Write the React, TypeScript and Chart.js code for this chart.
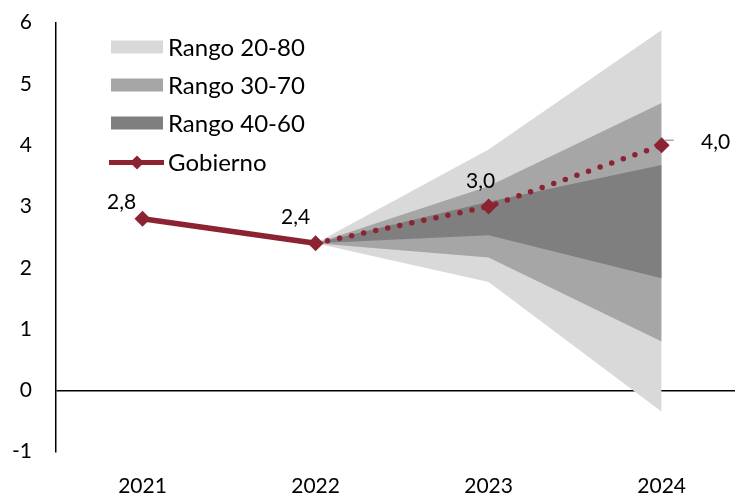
import { useEffect, useRef } from 'react';
import { Chart, registerables } from 'chart.js';

Chart.register(...registerables);

// Observed and projected growth (%)
const years = [2021, 2022, 2023, 2024];
const gobierno = [2.8, 2.4, 3.0, 4.0];

// Fan chart percentile bands, starting from the last observed year
const fanYears = [2022, 2023, 2024];
const rango2080Low = [2.4, 1.77, -0.35];
const rango2080High = [2.4, 3.93, 5.88];
const rango3070Low = [2.4, 2.17, 0.8];
const rango3070High = [2.4, 3.33, 4.69];
const rango4060Low = [2.4, 2.53, 1.83];
const rango4060High = [2.4, 3.08, 3.68];

const yMin = -1;
const yMax = 6;

const seriesNames = ['Rango 20-80', 'Rango 30-70', 'Rango 40-60', 'Gobierno'];

const RED = '#8B2332';
const LIGHT = '#D9D9D9';
const MID = '#A6A6A6';
const DARK = '#7F7F7F';
const FONT = 'Lato, "Open Sans", sans-serif';

const pts = (xs: number[], ys: number[]) => xs.map((x, i) => ({ x, y: ys[i] }));
const fmt = (v: number) => v.toFixed(1).replace('.', ',');

// label offsets relative to each Gobierno point
const labelOffsets: [number, number][] = [
  [-21, -17],
  [-20, -27],
  [-8, -26],
  [54, -4],
];

const band = (label: string, low: number[], high: number[], color: string, order: number, lowIndex: number) => [
  {
    label,
    data: pts(fanYears, high),
    fill: lowIndex,
    backgroundColor: color,
    borderColor: 'rgba(0,0,0,0)',
    borderWidth: 0,
    pointRadius: 0,
    order,
  },
  {
    label: label + ' (inferior)',
    data: pts(fanYears, low),
    fill: false,
    backgroundColor: color,
    borderColor: 'rgba(0,0,0,0)',
    borderWidth: 0,
    pointRadius: 0,
    order,
  },
];

const overlayPlugin = {
  id: 'overlay',
  afterDatasetsDraw(chart: any) {
    const ctx = chart.ctx as CanvasRenderingContext2D;
    const meta = chart.getDatasetMeta(0);
    ctx.save();
    // leader line for the last value label
    const last = meta.data[meta.data.length - 1];
    ctx.strokeStyle = MID;
    ctx.lineWidth = 1.5;
    ctx.beginPath();
    ctx.moveTo(last.x + 3, last.y - 5);
    ctx.lineTo(last.x + 12, last.y - 5);
    ctx.stroke();

    ctx.font = `21px ${FONT}`;
    ctx.fillStyle = '#000';
    ctx.textAlign = 'center';
    ctx.textBaseline = 'alphabetic';
    meta.data.forEach((pt: any, i: number) => {
      const [dx, dy] = labelOffsets[i];
      ctx.fillText(fmt(gobierno[i]), pt.x + dx, pt.y + dy + 7.5);
    });
    ctx.restore();
  },
  afterDraw(chart: any) {
    const ctx = chart.ctx as CanvasRenderingContext2D;
    const rows = [47, 85, 123, 162.5];
    const boxColors = [LIGHT, MID, DARK];
    ctx.save();
    boxColors.forEach((c, i) => {
      ctx.fillStyle = c;
      ctx.fillRect(111, rows[i] - 6.5, 52, 13);
    });
    // line + diamond swatch
    const gy = rows[3];
    ctx.strokeStyle = RED;
    ctx.lineWidth = 5;
    ctx.beginPath();
    ctx.moveTo(109, gy);
    ctx.lineTo(164, gy);
    ctx.stroke();
    ctx.fillStyle = RED;
    ctx.beginPath();
    ctx.moveTo(137 - 7, gy);
    ctx.lineTo(137, gy - 7);
    ctx.lineTo(137 + 7, gy);
    ctx.lineTo(137, gy + 7);
    ctx.closePath();
    ctx.fill();

    ctx.font = `24px ${FONT}`;
    ctx.fillStyle = '#000';
    ctx.textAlign = 'left';
    ctx.textBaseline = 'alphabetic';
    seriesNames.forEach((name, i) => {
      ctx.fillText(name, 168, rows[i] + 8.5);
    });
    ctx.restore();
  },
};

export default function App() {
  const ref = useRef<HTMLCanvasElement>(null);

  useEffect(() => {
    let chart: Chart | null = null;
    let cancelled = false;
    const build = () => {
      if (cancelled || !ref.current) return;
      chart = new Chart(ref.current, {
        type: 'line',
        data: {
          datasets: [
            {
              label: 'Gobierno',
              data: pts(years, gobierno),
              borderColor: RED,
              backgroundColor: RED,
              borderWidth: 5.5,
              borderCapStyle: 'round',
              tension: 0,
              fill: false,
              pointStyle: 'rectRot',
              pointRadius: 8,
              pointBackgroundColor: RED,
              pointBorderColor: RED,
              pointBorderWidth: 0,
              order: 0,
              segment: {
                borderDash: (c: any) => (c.p0DataIndex >= 1 ? [0, 12.3] : undefined),
              },
            } as any,
            ...band('Rango 40-60', rango4060Low, rango4060High, DARK, 1, 2),
            ...band('Rango 30-70', rango3070Low, rango3070High, MID, 2, 4),
            ...band('Rango 20-80', rango2080Low, rango2080High, LIGHT, 3, 6),
          ],
        },
        options: {
          responsive: false,
          devicePixelRatio: 1,
          animation: false,
          layout: { autoPadding: false, padding: { top: 22.7, left: 0, right: 0, bottom: 0 } },
          plugins: {
            legend: { display: false },
            tooltip: { enabled: false },
          },
          scales: {
            x: {
              type: 'linear',
              min: 2020.5,
              max: 2024.424,
              afterBuildTicks: (s: any) => {
                s.ticks = years.map((v) => ({ value: v }));
              },
              afterFit: (s: any) => {
                s.height = 45.3;
                s.paddingLeft = 0;
                s.paddingRight = 0;
              },
              grid: { display: false },
              border: { display: false },
              ticks: {
                callback: (v: any) => String(v),
                font: { family: FONT, size: 21 },
                color: '#000',
                padding: 14,
                maxRotation: 0,
                autoSkip: false,
              },
            },
            y: {
              min: yMin,
              max: yMax,
              z: 1,
              afterFit: (s: any) => {
                s.width = 56;
                s.paddingTop = 0;
                s.paddingBottom = 0;
              },
              ticks: {
                stepSize: 1,
                callback: (v: any) => String(v),
                font: { family: FONT, size: 21 },
                color: '#000',
                padding: 24,
              },
              grid: {
                color: (c: any) => (c.tick && c.tick.value === 0 ? '#000' : 'rgba(0,0,0,0)'),
                lineWidth: 1.5,
                drawTicks: false,
              },
              border: { display: true, color: '#000', width: 1.5 },
            },
          },
        } as any,
        plugins: [overlayPlugin],
      });
    };
    if (document.fonts && document.fonts.load) {
      Promise.all([document.fonts.load(`21px Lato`), document.fonts.load(`24px Lato`)])
        .catch(() => undefined)
        .then(build);
    } else {
      build();
    }
    return () => {
      cancelled = true;
      if (chart) chart.destroy();
    };
  }, []);

  return (
    <div style={{ position: 'fixed', left: 0, top: 0, width: 735, height: 497, background: '#fff' }}>
      <canvas ref={ref} width={735} height={497} style={{ display: 'block', width: 735, height: 497 }} />
    </div>
  );
}
